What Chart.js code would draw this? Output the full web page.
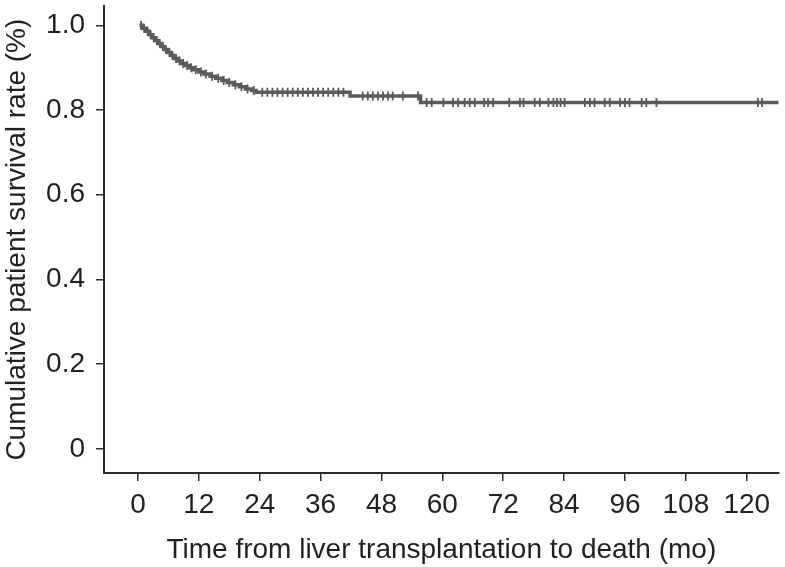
<!DOCTYPE html>
<html><head><meta charset="utf-8">
<script src="https://cdn.jsdelivr.net/npm/chart.js@4/dist/chart.umd.min.js"></script>
<style>html,body{margin:0;padding:0;background:#fff}#wrap{width:785px;height:567px}</style>
</head><body><div id="wrap"><canvas id="c" width="785" height="567"></canvas></div>
<script>
// Kaplan-Meier step data (months, cumulative survival)
const stepTimes = [0.3, 0.8, 1.5, 2.2, 2.8, 3.3, 4.0, 4.6, 5.2, 5.9, 6.5, 7.2, 7.9, 8.6, 9.4, 10.2, 11.0, 12.0, 13.0, 14.2, 15.3, 16.5, 17.6, 18.8, 20.0, 21.2, 22.4, 23.3, 41.8, 55.7, 126.3];
const stepSurv  = [1.0, 0.993, 0.986, 0.978, 0.971, 0.964, 0.957, 0.950, 0.943, 0.936, 0.929, 0.922, 0.916, 0.910, 0.905, 0.900, 0.895, 0.890, 0.885, 0.880, 0.875, 0.870, 0.865, 0.860, 0.855, 0.850, 0.846, 0.842, 0.833, 0.818, 0.818];
// censored observation times (months)
const censorTimes = [0.6, 1.2, 1.9, 2.5, 3.1, 3.7, 4.3, 4.9, 5.5, 6.2, 6.8, 7.5, 8.2, 8.9, 9.7, 10.5, 11.4, 12.4, 13.4, 14.6, 15.8, 16.9, 18.0, 19.2, 20.4, 21.6, 22.8,
  24.5, 25.5, 26.5, 27.5, 28.5, 29.5, 30.5, 31.5, 32.5, 33.5, 34.5, 35.5, 36.5, 37.5, 38.5, 39.5, 40.5,
  44.3, 45.3, 46.3, 47.3, 48.3, 49.3, 50.2, 52.2, 55.2,
  56.9, 57.9, 60.2, 62.1, 63.1, 64.4, 65.4, 66.4, 68.2, 69.0, 70.0, 73.2, 75.3, 76.0, 78.2, 79.2, 80.9, 81.9, 82.6, 83.3, 84.1, 88.1, 89.1, 90.0, 92.0, 93.0, 95.0, 96.0, 96.9, 99.3, 100.2, 102.2, 122.2, 123.0];
const xTicks = [0, 12, 24, 36, 48, 60, 72, 84, 96, 108, 120];
const yTicks = [0, 0.2, 0.4, 0.6, 0.8, 1.0];
const yTickLabels = ['0', '0.2', '0.4', '0.6', '0.8', '1.0'];
const xTitle = 'Time from liver transplantation to death (mo)';
const yTitle = 'Cumulative patient survival rate (%)';

function survAt(t) {
  let s = stepSurv[0];
  for (let i = 0; i < stepTimes.length; i++) { if (stepTimes[i] <= t) s = stepSurv[i]; }
  return s;
}
const stepData = stepTimes.map((t, i) => ({x: t, y: stepSurv[i]}));
const censorData = censorTimes.map(t => ({x: t, y: survAt(t)}));

const FONT = "'Liberation Sans', Arial, sans-serif";
const TXT = '#231f20';
const AX = '#2b2b2b';
const FS = 28;

new Chart(document.getElementById('c'), {
  type: 'scatter',
  data: {
    datasets: [
      {data: stepData, showLine: true, stepped: true, borderColor: '#5a5a5a', borderWidth: 3.5, pointRadius: 0, fill: false},
      {data: censorData, showLine: false, pointStyle: 'line', rotation: 90, pointRadius: 4.5, borderColor: '#5a5a5a', borderWidth: 1.8, backgroundColor: '#5a5a5a'}
    ]
  },
  options: {
    responsive: false, animation: false, devicePixelRatio: 1,
    layout: {padding: {left: 0, right: 6, top: 0, bottom: 0}},
    plugins: {legend: {display: false}, tooltip: {enabled: false}},
    scales: {
      x: {
        type: 'linear', min: -6.7, max: 126.3,
        afterBuildTicks: s => { s.ticks = xTicks.map(v => ({value: v})); },
        afterFit: s => { s.height = 94; s.paddingLeft = 0; s.paddingRight = 0; },
        grid: {display: true, drawOnChartArea: false, drawTicks: true, tickLength: 8, color: AX, lineWidth: 1.5},
        border: {display: true, color: AX, width: 2},
        ticks: {color: TXT, font: {family: FONT, size: FS}, padding: 7, maxRotation: 0, autoSkip: false},
        title: {display: true, text: xTitle, color: TXT, font: {family: FONT, size: FS}, padding: {top: 2, bottom: 0}}
      },
      y: {
        type: 'linear', min: -0.057, max: 1.045,
        afterBuildTicks: s => { s.ticks = yTicks.map(v => ({value: v})); },
        afterFit: s => { s.width = 104; s.paddingTop = 0; s.paddingBottom = 0; },
        grid: {display: true, drawOnChartArea: false, drawTicks: true, tickLength: 8, color: AX, lineWidth: 1.5},
        border: {display: true, color: AX, width: 2},
        ticks: {color: TXT, font: {family: FONT, size: FS}, padding: 11,
          callback: (v) => { const i = yTicks.findIndex(t => Math.abs(t - v) < 1e-6); return i >= 0 ? yTickLabels[i] : ''; }},
        title: {display: true, text: yTitle, color: TXT, font: {family: FONT, size: FS}, padding: {top: 0, bottom: 2}}
      }
    }
  }
});
</script></body></html>
